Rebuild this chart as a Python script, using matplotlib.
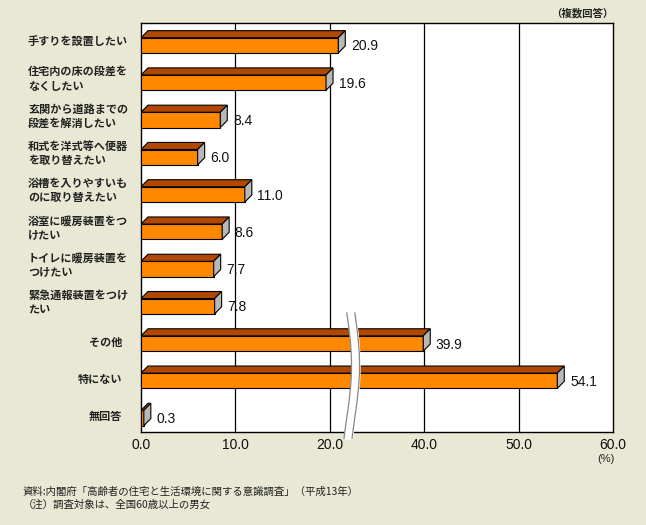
import numpy as np
import matplotlib.pyplot as plt
from matplotlib.patches import Polygon
import matplotlib.transforms as mtransforms

plt.rcParams['font.family'] = ['Noto Sans CJK JP', 'DejaVu Sans']

# data
labels = ["手すりを設置したい", "住宅内の床の段差を\nなくしたい", "玄関から道路までの\n段差を解消したい",
          "和式を洋式等へ便器\nを取り替えたい", "浴槽を入りやすいも\nのに取り替えたい",
          "浴室に暖房装置をつ\nけたい", "トイレに暖房装置を\nつけたい", "緊急通報装置をつけ\nたい",
          "その他", "特にない", "無回答"]
values = [20.9, 19.6, 8.4, 6.0, 11.0, 8.6, 7.7, 7.8, 39.9, 54.1, 0.3]
tick_values = [0, 10, 20, 40, 50, 60]
tick_labels = ["0.0", "10.0", "20.0", "40.0", "50.0", "60.0"]

# axis is broken between 20 and 40: values above the break are shifted by 10
BREAK_GAP = 10


def to_axis(v):
    return v if v < 30 else v - BREAK_GAP


BG = '#e8e8d4'
FRONT = '#ff8800'
TOP = '#b04800'
SIDE = '#b8b8b8'

fig = plt.figure(figsize=(6.46, 5.25), dpi=100, facecolor=BG)
ax = fig.add_axes([141 / 646, 93 / 525, 472 / 646, 409 / 525])
ax.set_facecolor('white')

n = len(values)
ys = np.arange(n)
disp = [to_axis(v) for v in values]
h = 0.41
dx, dy = 0.74, 0.19

ax.barh(ys, disp, height=h, color=FRONT, edgecolor='black', linewidth=0.8, zorder=3)
for y, w in zip(ys, disp):
    top = Polygon([(0, y - h / 2), (dx, y - h / 2 - dy), (w + dx, y - h / 2 - dy), (w, y - h / 2)],
                  closed=True, facecolor=TOP, edgecolor='black', linewidth=0.8, zorder=3)
    side = Polygon([(w, y - h / 2), (w + dx, y - h / 2 - dy), (w + dx, y + h / 2 - dy), (w, y + h / 2)],
                   closed=True, facecolor=SIDE, edgecolor='black', linewidth=0.8, zorder=3)
    ax.add_patch(top)
    ax.add_patch(side)

for y, w, v in zip(ys, disp, values):
    ax.text(w + dx + 0.6, y + 0.03, f"{v:.1f}", va='center', ha='left',
            fontsize=10, family='Liberation Sans', color='#111111', zorder=4)

ax.set_xlim(0, 50)
ax.set_ylim(n - 1 + 0.375, -0.6)
tick_pos = [to_axis(t) for t in tick_values]
ax.set_xticks(tick_pos)
ax.set_xticklabels(tick_labels, family='Liberation Sans', fontsize=10, color='#111111')
ax.tick_params(axis='x', length=0, pad=4)
ax.set_yticks([])
for x in tick_pos[1:-1]:
    ax.axvline(x, color='black', linewidth=0.9, zorder=1)
for s in ax.spines.values():
    s.set_linewidth(1.0)
    s.set_color('black')

# category labels
tr = mtransforms.blended_transform_factory(fig.transFigure, ax.transData)
for y, lab in zip(ys, labels):
    if '\n' in lab or y == 0:
        fig.text(28 / 646, y - 0.1, lab, transform=tr, ha='left', va='center',
                 fontsize=8, fontweight='bold', linespacing=1.15, color='#222222')
    else:
        fig.text(122 / 646, y - 0.03, lab, transform=tr, ha='right', va='center',
                 fontsize=8, fontweight='bold', color='#222222')

# axis break mark
yy = np.linspace(7.18, 10.55, 80)
t = (yy - yy[0]) / (yy[-1] - yy[0])
xl = 21.8 + 0.5 * np.sin(1.2 * np.pi * t)
xr = xl + 0.85
ax.fill_betweenx(yy, xl, xr, color='white', zorder=5, clip_on=False)
ax.plot(xl, yy, color='#888888', linewidth=0.9, zorder=6, clip_on=False)
ax.plot(xr, yy, color='#888888', linewidth=0.9, zorder=6, clip_on=False)

fig.text(613 / 646, 1 - 13 / 525, "（複数回答）", ha='right', va='center',
         fontsize=7.5, fontweight='bold', color='#222222')
fig.text(606 / 646, 1 - 459 / 525, "(%)", ha='center', va='center',
         fontsize=8, family='Liberation Sans', color='#222222')
fig.text(23 / 646, 1 - 492 / 525, "資料:内閣府「高齢者の住宅と生活環境に関する意識調査」（平成13年）",
         ha='left', va='center', fontsize=7.5, color='#222222')
fig.text(23 / 646, 1 - 505 / 525, "（注）調査対象は、全国60歳以上の男女",
         ha='left', va='center', fontsize=7.5, color='#222222')

fig.savefig('out.png', dpi=100, facecolor=BG)
